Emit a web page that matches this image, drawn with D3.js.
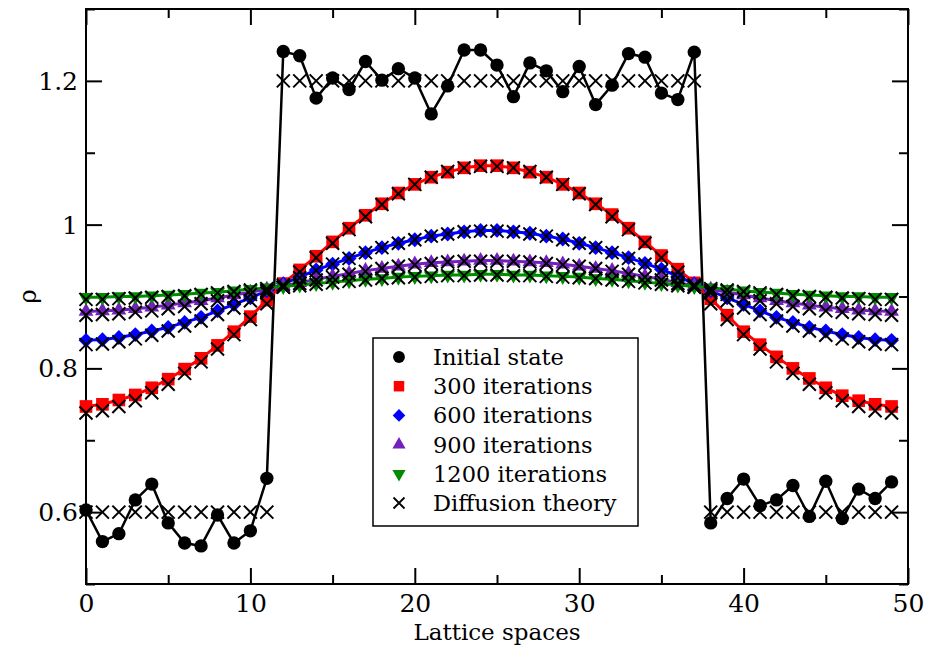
<!DOCTYPE html>
<html>
<head>
<meta charset="utf-8">
<script src="https://cdn.jsdelivr.net/npm/d3@7"></script>
<style>
  body { margin: 0; background: #fff; }
</style>
</head>
<body>
<div id="chart"></div>
<script>
// lattice positions 0..49
var lattice = d3.range(50);

// simulated densities
var initState = [0.603,0.559,0.570,0.617,0.639,0.585,0.557,0.553,0.596,0.557,0.574,0.647,
  1.241,1.235,1.176,1.204,1.188,1.227,1.201,1.217,1.204,1.154,1.193,1.243,1.243,1.222,1.178,1.225,1.214,1.185,1.220,1.167,1.194,1.238,1.233,1.183,1.174,1.240,
  0.585,0.619,0.646,0.609,0.617,0.637,0.594,0.643,0.591,0.632,0.619,0.642];
var iter300 = [0.747,0.750,0.756,0.763,0.773,0.785,0.799,0.814,0.832,0.851,0.872,0.895,0.918,0.937,0.956,0.976,0.995,1.013,1.029,1.044,1.056,1.066,1.073,1.079,1.082,
  1.082,1.079,1.073,1.066,1.056,1.044,1.029,1.014,0.995,0.976,0.957,0.938,0.919,0.897,0.874,0.851,0.833,0.816,0.800,0.786,0.773,0.762,0.755,0.750,0.747];
var iter600 = [0.839,0.840,0.843,0.847,0.852,0.857,0.864,0.871,0.880,0.889,0.898,0.908,0.918,0.927,0.937,0.945,0.953,0.961,0.968,0.974,0.979,0.984,0.987,0.990,0.992,
  0.992,0.990,0.988,0.984,0.980,0.974,0.968,0.961,0.954,0.946,0.938,0.928,0.918,0.908,0.898,0.889,0.880,0.871,0.864,0.857,0.852,0.847,0.843,0.840,0.839];
var iter900 = [0.879,0.880,0.881,0.883,0.885,0.888,0.891,0.894,0.898,0.902,0.906,0.910,0.915,0.919,0.924,0.928,0.932,0.936,0.939,0.942,0.945,0.947,0.948,0.949,0.950,
  0.950,0.949,0.948,0.947,0.945,0.942,0.939,0.936,0.932,0.928,0.924,0.919,0.915,0.910,0.906,0.902,0.898,0.894,0.891,0.888,0.885,0.883,0.881,0.880,0.879];
var iter1200 = [0.899,0.899,0.900,0.900,0.901,0.902,0.903,0.905,0.906,0.908,0.910,0.912,0.914,0.916,0.918,0.920,0.922,0.924,0.925,0.927,0.928,0.929,0.930,0.930,0.931,
  0.931,0.930,0.930,0.929,0.928,0.927,0.925,0.924,0.922,0.920,0.918,0.916,0.914,0.912,0.910,0.908,0.906,0.905,0.903,0.902,0.901,0.900,0.900,0.899,0.899];

// diffusion theory
var theory0 = [0.6,0.6,0.6,0.6,0.6,0.6,0.6,0.6,0.6,0.6,0.6,0.6,
  1.2,1.2,1.2,1.2,1.2,1.2,1.2,1.2,1.2,1.2,1.2,1.2,1.2,1.2,1.2,1.2,1.2,1.2,1.2,1.2,1.2,1.2,1.2,1.2,1.2,1.2,
  0.6,0.6,0.6,0.6,0.6,0.6,0.6,0.6,0.6,0.6,0.6,0.6];
var theory300 = [0.738,0.741,0.747,0.755,0.766,0.778,0.793,0.809,0.827,0.847,0.868,0.890,0.913,0.934,0.954,0.974,0.993,1.011,1.028,1.043,1.056,1.066,1.074,1.079,1.081,
  1.081,1.079,1.074,1.066,1.056,1.043,1.028,1.011,0.993,0.974,0.954,0.934,0.913,0.890,0.868,0.847,0.827,0.809,0.793,0.778,0.766,0.755,0.747,0.741,0.738];
var theory600 = [0.833,0.834,0.837,0.841,0.846,0.852,0.859,0.866,0.875,0.884,0.894,0.905,0.916,0.926,0.936,0.945,0.953,0.961,0.968,0.974,0.979,0.984,0.987,0.990,0.991,
  0.991,0.990,0.987,0.984,0.979,0.974,0.968,0.961,0.953,0.945,0.936,0.926,0.916,0.905,0.894,0.884,0.875,0.866,0.859,0.852,0.846,0.841,0.837,0.834,0.833];
var theory900 = [0.874,0.875,0.876,0.878,0.880,0.883,0.886,0.890,0.894,0.898,0.903,0.908,0.913,0.918,0.923,0.927,0.931,0.935,0.939,0.942,0.944,0.946,0.948,0.949,0.949,
  0.949,0.949,0.948,0.946,0.944,0.942,0.939,0.935,0.931,0.927,0.923,0.918,0.913,0.908,0.903,0.898,0.894,0.890,0.886,0.883,0.880,0.878,0.876,0.875,0.874];
var theory1200 = [0.896,0.896,0.897,0.898,0.899,0.900,0.901,0.903,0.905,0.907,0.909,0.911,0.913,0.915,0.917,0.919,0.921,0.923,0.925,0.926,0.927,0.928,0.929,0.929,0.930,
  0.930,0.929,0.929,0.928,0.927,0.926,0.925,0.923,0.921,0.919,0.917,0.915,0.913,0.911,0.909,0.907,0.905,0.903,0.901,0.900,0.899,0.898,0.897,0.896,0.896];

var legendLabels = ["Initial state", "300 iterations", "600 iterations", "900 iterations", "1200 iterations", "Diffusion theory"];
var xTicks = [0, 10, 20, 30, 40, 50];
var yTicks = [0.6, 0.8, 1.0, 1.2];

// no Times here: DejaVu Serif, a little smaller to keep the widths
var serif = "DejaVu Serif";

var margin = {top: 9, right: 20, bottom: 68, left: 86},
    width = 928 - margin.left - margin.right,
    height = 652 - margin.top - margin.bottom;

var svg = d3.select("#chart").append("svg")
    .attr("width", 928)
    .attr("height", 652)
    .style("font-family", serif)
    .append("g")
    .attr("transform", "translate(" + margin.left + "," + margin.top + ")");

var xScale = d3.scaleLinear().domain([0, 50]).range([0, width]);
var yScale = d3.scaleLinear().domain([0.5, 1.3]).range([height, 0]);

// ticks, all pointing inward
function fmtY(d) { return d === 1 ? "1" : d3.format(".1f")(d); }

svg.append("g").attr("class", "x axis")
    .attr("transform", "translate(0," + height + ")")
    .call(d3.axisBottom(xScale).tickValues(xTicks).tickSize(-16).tickPadding(10));
svg.append("g").attr("class", "x minor")
    .attr("transform", "translate(0," + height + ")")
    .call(d3.axisBottom(xScale).tickValues([5, 15, 25, 35, 45]).tickSize(-9).tickFormat(""));
svg.append("g").attr("class", "x top")
    .call(d3.axisTop(xScale).tickValues(xTicks).tickSize(-16).tickFormat(""));
svg.append("g").attr("class", "x top minor")
    .call(d3.axisTop(xScale).tickValues([5, 15, 25, 35, 45]).tickSize(-9).tickFormat(""));

svg.append("g").attr("class", "y axis")
    .call(d3.axisLeft(yScale).tickValues(yTicks).tickSize(-16).tickPadding(8).tickFormat(fmtY));
svg.append("g").attr("class", "y minor")
    .call(d3.axisLeft(yScale).tickValues([0.5, 0.7, 0.9, 1.1, 1.3]).tickSize(-9).tickFormat(""));
svg.append("g").attr("class", "y right")
    .attr("transform", "translate(" + width + ",0)")
    .call(d3.axisRight(yScale).tickValues(yTicks).tickSize(-16).tickFormat(""));
svg.append("g").attr("class", "y right minor")
    .attr("transform", "translate(" + width + ",0)")
    .call(d3.axisRight(yScale).tickValues([0.5, 0.7, 0.9, 1.1, 1.3]).tickSize(-9).tickFormat(""));

svg.selectAll(".axis path, .minor path, .top path, .right path").remove();
svg.selectAll("g.axis, g.minor, g.top, g.right").attr("font-family", null).attr("font-size", null);
svg.selectAll(".tick line").attr("stroke", "#000").attr("stroke-width", 2);
svg.selectAll(".tick text").attr("fill", "#000").style("font-size", "25px");
svg.selectAll(".y.axis .tick text").attr("dy", "0.34em");

// frame
svg.append("rect")
    .attr("width", width).attr("height", height)
    .attr("fill", "none").attr("stroke", "#000").attr("stroke-width", 2);

// axis titles
svg.append("text")
    .attr("x", width / 2).attr("y", height + 56)
    .attr("text-anchor", "middle").style("font-size", "23px")
    .text("Lattice spaces");
svg.append("text")
    .attr("transform", "translate(-50," + (height / 2) + ") rotate(-90)")
    .attr("text-anchor", "middle").style("font-size", "24px")
    .text("ρ");

// series
var line = d3.line()
    .x(function(d, i) { return xScale(lattice[i]); })
    .y(function(d) { return yScale(d); });

var sq = d3.symbol().type(d3.symbolSquare).size(160);
var ci = d3.symbol().type(d3.symbolCircle).size(140);
var tri = d3.symbol().type(d3.symbolTriangle).size(95);
var crossPath = "M-6.5,-6.5L6.5,6.5M-6.5,6.5L6.5,-6.5";

var series = [
  {vals: initState, color: "#000000", lw: 2.5, shape: ci(), rot: 0},
  {vals: iter300, color: "#ff0000", lw: 3, shape: sq(), rot: 0},
  {vals: iter600, color: "#0000ff", lw: 3, shape: d3.symbol().type(d3.symbolSquare).size(110)(), rot: 45},
  {vals: iter900, color: "#7221bc", lw: 3, shape: tri(), rot: 0},
  {vals: iter1200, color: "#008b00", lw: 3, shape: tri(), rot: 180}
];
var theories = [theory0, theory300, theory600, theory900, theory1200];

series.forEach(function(s) {
  svg.append("path")
      .datum(s.vals)
      .attr("d", line)
      .attr("fill", "none")
      .attr("stroke", s.color)
      .attr("stroke-width", s.lw)
      .attr("stroke-linejoin", "round");
  svg.selectAll(null)
      .data(s.vals)
      .enter().append("path")
      .attr("d", s.shape)
      .attr("transform", function(d, i) {
        return "translate(" + xScale(lattice[i]) + "," + yScale(d) + ") rotate(" + s.rot + ")";
      })
      .attr("fill", s.color);
});

theories.forEach(function(t) {
  svg.selectAll(null)
      .data(t)
      .enter().append("path")
      .attr("d", crossPath)
      .attr("transform", function(d, i) {
        return "translate(" + xScale(lattice[i]) + "," + yScale(d) + ")";
      })
      .attr("fill", "none")
      .attr("stroke", "#000")
      .attr("stroke-width", 2);
});

// legend
var legend = svg.append("g").attr("transform", "translate(" + (373 - margin.left) + "," + (338 - margin.top) + ")");
legend.append("rect")
    .attr("width", 265).attr("height", 188)
    .attr("fill", "#fff").attr("stroke", "#000").attr("stroke-width", 1.5);

var legendShapes = [
  {shape: d3.symbol().type(d3.symbolCircle).size(110)(), color: "#000", rot: 0},
  {shape: d3.symbol().type(d3.symbolSquare).size(110)(), color: "#ff0000", rot: 0},
  {shape: d3.symbol().type(d3.symbolSquare).size(80)(), color: "#0000ff", rot: 45},
  {shape: d3.symbol().type(d3.symbolTriangle).size(75)(), color: "#7221bc", rot: 0},
  {shape: d3.symbol().type(d3.symbolTriangle).size(75)(), color: "#008b00", rot: 180},
  {shape: "M-5.5,-5.5L5.5,5.5M-5.5,5.5L5.5,-5.5", color: "#000", rot: 0, stroke: true}
];

legendLabels.forEach(function(lbl, i) {
  var row = legend.append("g").attr("transform", "translate(0," + (19 + i * 29.2) + ")");
  var ls = legendShapes[i];
  row.append("path")
      .attr("d", ls.shape)
      .attr("transform", "translate(26,0) rotate(" + ls.rot + ")")
      .attr("fill", ls.stroke ? "none" : ls.color)
      .attr("stroke", ls.stroke ? ls.color : "none")
      .attr("stroke-width", 1.8);
  row.append("text")
      .attr("x", 60).attr("y", 8)
      .style("font-size", "22.5px")
      .text(lbl);
});
</script>
</body>
</html>
